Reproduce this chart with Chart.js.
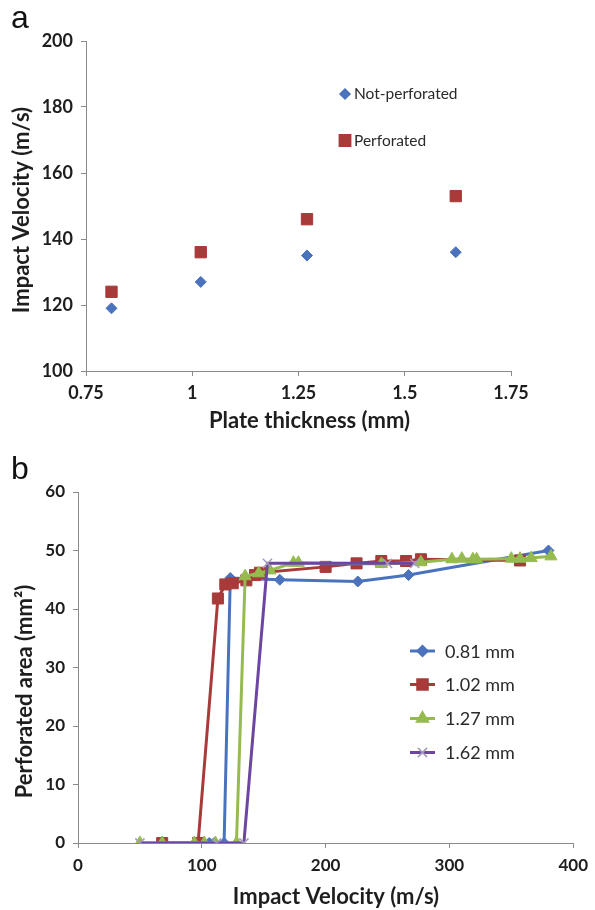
<!DOCTYPE html>
<html>
<head>
<meta charset="utf-8">
<script src="https://cdn.jsdelivr.net/npm/chart.js@4/dist/chart.umd.min.js"></script>
<style>
  html, body { margin: 0; padding: 0; background: #fff; }
  body { width: 595px; height: 910px; position: relative; overflow: hidden; }
  .cv { position: absolute; left: 0; width: 595px; height: 455px; }
  #wrapA { top: 0; }
  #wrapB { top: 455px; }
  .panel { position: absolute; left: 11px; font-family: "Liberation Sans", Arial, sans-serif; font-size: 32px; line-height: 32px; color: #111; }
</style>
</head>
<body>
<div class="cv" id="wrapA"><canvas id="chartA" width="595" height="455"></canvas></div>
<div class="cv" id="wrapB"><canvas id="chartB" width="595" height="455"></canvas></div>
<div class="panel" style="top:1px">a</div>
<div class="panel" style="top:452px">b</div>
<script>
// ---- Panel a data ----
const thicknessMm = [0.81, 1.02, 1.27, 1.62];
const notPerforatedVelocity = [119, 127, 135, 136];
const perforatedVelocity = [124, 136, 146, 153];
const seriesNamesA = ['Not-perforated', 'Perforated'];

// ---- Panel b data ----
const seriesNamesB = ['0.81 mm', '1.02 mm', '1.27 mm', '1.62 mm'];
const vel081 = [106, 110, 118, 123, 163, 226, 267, 380];
const area081 = [0, 0, 0, 45.3, 45.0, 44.7, 45.8, 50.0];
const vel102 = [68, 97, 113, 119, 125, 136, 143, 147, 200, 225, 245, 265, 277, 357];
const area102 = [0, 0, 41.8, 44.2, 44.4, 44.9, 45.8, 46.2, 47.2, 47.8, 48.2, 48.2, 48.5, 48.3];
const vel127 = [50, 68, 94, 102, 111, 128, 135, 146, 155, 174, 178, 245, 277, 302, 310, 319, 322, 350, 357, 366, 382];
const area127 = [0, 0, 0, 0, 0, 0, 45.6, 46.1, 46.6, 47.9, 47.9, 47.7, 48.0, 48.5, 48.6, 48.5, 48.5, 48.6, 48.6, 48.7, 49.0];
const vel162 = [50, 112, 134, 153, 250, 272];
const area162 = [0, 0, 0, 47.8, 47.8, 47.8];

// ---- tick labels / axis titles ----
const ticksAx = [0.75, 1, 1.25, 1.5, 1.75];
const tickLabelsAx = ['0.75', '1', '1.25', '1.5', '1.75'];
const ticksAy = [100, 120, 140, 160, 180, 200];
const ticksBx = [0, 100, 200, 300, 400];
const ticksBy = [0, 10, 20, 30, 40, 50, 60];
const titlesA = { x: 'Plate thickness (mm)', y: 'Impact Velocity (m/s)' };
const titlesB = { x: 'Impact Velocity (m/s)', y: 'Perforated area (mm²)' };

const pts = (xs, ys) => xs.map((x, i) => ({ x: x, y: ys[i] }));

const AXIS = '#8a8a8a';
const TXT = '#1e1e1e';
const FONT = 'Lato, "Open Sans", sans-serif';
const BLUE = '#4a72bd', RED = '#a83a3a', GREEN = '#95bb4f', PURPLE = '#6d45a3', CROSS = '#a49cb8';

function gridOpts() {
  return { display: true, drawOnChartArea: false, drawTicks: true, tickLength: 5, color: AXIS, lineWidth: 1 };
}

function drawMarker(ctx, style, x, y, r, color) {
  if (Chart.helpers && Chart.helpers.drawPoint) {
    ctx.save();
    ctx.fillStyle = color; ctx.strokeStyle = color; ctx.lineWidth = 1.5;
    Chart.helpers.drawPoint(ctx, { pointStyle: style, radius: r, rotation: 0, borderWidth: 1.5 }, x, y);
    ctx.restore();
  }
}

function drawTitles(ctx, xt, xx, xy, yt, yx, yy) {
  ctx.save();
  ctx.font = 'bold 22px ' + FONT;
  ctx.fillStyle = TXT;
  ctx.textAlign = 'center';
  ctx.textBaseline = 'middle';
  ctx.fillText(xt, xx, xy);
  ctx.translate(yx, yy);
  ctx.rotate(-Math.PI / 2);
  ctx.fillText(yt, 0, 0);
  ctx.restore();
}

// ---------------- Chart A ----------------
const decorA = {
  id: 'decorA',
  afterDraw(chart) {
    const ctx = chart.ctx;
    drawTitles(ctx, titlesA.x, 309.5, 421, titlesA.y, 21.5, 210);
    ctx.save();
    ctx.font = '15.5px ' + FONT;
    ctx.fillStyle = '#2a2a2a';
    ctx.textBaseline = 'middle';
    ctx.textAlign = 'left';
    drawMarker(ctx, 'rectRot', 345, 94, 5, BLUE);
    ctx.fillText(seriesNamesA[0], 354, 94);
    drawMarker(ctx, 'rect', 345, 140.5, 8, RED);
    ctx.fillText(seriesNamesA[1], 354, 140.5);
    ctx.restore();
  }
};

new Chart(document.getElementById('chartA'), {
  type: 'scatter',
  data: {
    datasets: [
      { label: seriesNamesA[0], data: pts(thicknessMm, notPerforatedVelocity), pointStyle: 'rectRot', pointRadius: 5.5, backgroundColor: BLUE, borderColor: BLUE, borderWidth: 1, order: 1 },
      { label: seriesNamesA[1], data: pts(thicknessMm, perforatedVelocity), pointStyle: 'rect', pointRadius: 8, backgroundColor: RED, borderColor: RED, borderWidth: 1, order: 2 }
    ]
  },
  options: {
    responsive: false, animation: false,
    layout: { padding: { left: 0, top: 41, right: 84, bottom: 20 } },
    plugins: { legend: { display: false }, tooltip: { enabled: false } },
    scales: {
      x: {
        type: 'linear', min: 0.75, max: 1.75,
        afterBuildTicks: s => { s.ticks = ticksAx.map(v => ({ value: v })); },
        afterFit: s => { s.height = 64; },
        border: { display: true, color: AXIS, width: 1 },
        grid: gridOpts(),
        ticks: {
          color: TXT, font: { family: FONT, size: 18, weight: 'bold' }, padding: 6, maxRotation: 0,
          callback: (v) => { const i = ticksAx.indexOf(v); return i >= 0 ? tickLabelsAx[i] : String(v); }
        },
        title: { display: false }
      },
      y: {
        type: 'linear', min: 100, max: 200,
        afterBuildTicks: s => { s.ticks = ticksAy.map(v => ({ value: v })); },
        afterFit: s => { s.width = 86; },
        border: { display: true, color: AXIS, width: 1 },
        grid: gridOpts(),
        ticks: { color: TXT, font: { family: FONT, size: 18, weight: 'bold' }, padding: 8 },
        title: { display: false }
      }
    }
  },
  plugins: [decorA]
});

// ---------------- Chart B ----------------
const styleB = [
  { c: BLUE, s: 'rectRot', r: 5.5, mc: BLUE },
  { c: RED, s: 'rect', r: 7.8, mc: RED },
  { c: GREEN, s: 'triangle', r: 7, mc: GREEN },
  { c: PURPLE, s: 'crossRot', r: 6.5, mc: CROSS }
];

const decorB = {
  id: 'decorB',
  afterDraw(chart) {
    const ctx = chart.ctx;
    const top = 455;
    drawTitles(ctx, titlesB.x, 336, 896.7 - top, titlesB.y, 25, 691.5 - top);
    const rows = [651, 684.5, 718.5, 752.5];
    ctx.save();
    ctx.font = '18px ' + FONT;
    ctx.textBaseline = 'middle';
    ctx.textAlign = 'left';
    rows.forEach((yy, i) => {
      const y = yy - top;
      const st = styleB[i];
      ctx.strokeStyle = st.c; ctx.lineWidth = 3;
      ctx.beginPath(); ctx.moveTo(410, y); ctx.lineTo(435, y); ctx.stroke();
      drawMarker(ctx, st.s, 422.5, y, st.r, st.mc);
      ctx.fillStyle = '#2a2a2a';
      ctx.fillText(seriesNamesB[i], 445, y + 1);
    });
    ctx.restore();
  }
};

const mkB = (i, xs, ys, order) => ({
  label: seriesNamesB[i], data: pts(xs, ys), showLine: true, tension: 0,
  borderColor: styleB[i].c, borderWidth: 3,
  pointStyle: styleB[i].s, pointRadius: styleB[i].r,
  pointBackgroundColor: styleB[i].mc, pointBorderColor: styleB[i].mc, pointBorderWidth: i === 3 ? 1.5 : 1,
  order: order
});

new Chart(document.getElementById('chartB'), {
  type: 'scatter',
  data: {
    datasets: [
      mkB(0, vel081, area081, 4),
      mkB(1, vel102, area102, 3),
      mkB(2, vel127, area127, 2),
      mkB(3, vel162, area162, 1)
    ]
  },
  options: {
    responsive: false, animation: false,
    layout: { padding: { left: 0, top: 37, right: 15, bottom: 0 } },
    plugins: { legend: { display: false }, tooltip: { enabled: false } },
    scales: {
      x: {
        type: 'linear', min: 0, max: 400,
        afterBuildTicks: s => { s.ticks = ticksBx.map(v => ({ value: v })); },
        afterFit: s => { s.height = 67; },
        border: { display: true, color: AXIS, width: 1 },
        grid: gridOpts(),
        ticks: { color: TXT, font: { family: FONT, size: 17, weight: 'bold' }, padding: 7, maxRotation: 0 },
        title: { display: false }
      },
      y: {
        type: 'linear', min: 0, max: 60,
        afterBuildTicks: s => { s.ticks = ticksBy.map(v => ({ value: v })); },
        afterFit: s => { s.width = 78; },
        border: { display: true, color: AXIS, width: 1 },
        grid: gridOpts(),
        ticks: { color: TXT, font: { family: FONT, size: 17, weight: 'bold' }, padding: 8 },
        title: { display: false }
      }
    }
  },
  plugins: [decorB]
});
</script>
</body>
</html>
